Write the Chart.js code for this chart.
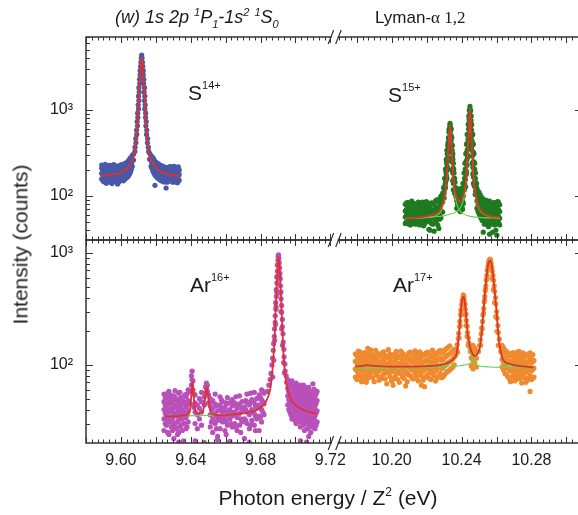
<!DOCTYPE html>
<html><head><meta charset="utf-8">
<script src="https://cdn.jsdelivr.net/npm/chart.js@4.4.1/dist/chart.umd.min.js"></script>
<style>
html,body{margin:0;padding:0;background:#fff;overflow:hidden}
#clip{position:relative;width:578px;height:515px;overflow:hidden;background:#fff}
#wrap{position:relative;width:600px;height:515px}
#c{position:absolute;left:0;top:0;width:600px;height:515px}
.t{position:absolute;white-space:nowrap;color:#1a1a1a;font-family:"Liberation Sans",Arial,sans-serif;line-height:1}
.sp{position:relative;font-size:11px}
</style></head><body>
<div id="clip"><div id="wrap">
<canvas id="c" width="600" height="515"></canvas>
<div class="t" style="left:115px;top:8px;font-size:18px;font-style:italic">(w) 1s 2p <span class="sp" style="top:-7px">1</span>P<span class="sp" style="top:5px">1</span>-1s<span class="sp" style="top:-7px">2</span> <span class="sp" style="top:-7px">1</span>S<span class="sp" style="top:5px">0</span></div>
<div class="t" style="left:375px;top:9px;font-size:17px">Lyman-<span style="font-family:'Liberation Serif',serif">α 1,2</span></div>
<div class="t" style="left:188px;top:82px;font-size:21px">S<span class="sp" style="top:-11px">14+</span></div>
<div class="t" style="left:388px;top:84px;font-size:21px">S<span class="sp" style="top:-11px">15+</span></div>
<div class="t" style="left:190px;top:274px;font-size:21px">Ar<span class="sp" style="top:-11px">16+</span></div>
<div class="t" style="left:393px;top:274px;font-size:21px">Ar<span class="sp" style="top:-11px">17+</span></div>
<div class="t" style="left:178px;top:487px;width:300px;text-align:center;font-size:21px">Photon energy / Z<span class="sp" style="top:-9px;font-size:12px">2</span> (eV)</div>
<div class="t" style="left:-80px;top:234px;width:200px;height:21px;text-align:center;font-size:21px;transform:rotate(-90deg)">Intensity (counts)</div>
</div></div>
<script>
// ---------- tick labels ----------
const xLeftTicks = [9.60, 9.64, 9.68, 9.72];
const xRightTicks = [10.20, 10.24, 10.28];
const yLabelTicks = [100, 1000];

// ---------- S14+ (w line); band rows: [x, counts...] ----------
const s14Band = [
[9.5890,158,184,211,229],[9.5903,147,172,199,222],[9.5916,141,165,190,215],[9.5929,152,178,205,226],
[9.5942,145,168,194,218],[9.5955,160,186,209,230],[9.5968,149,175,201,224],[9.5981,138,156,181,213],
[9.5994,151,174,198,227],[9.6007,160,186,210,232],[9.6020,155,181,207,236],[9.6032,163,190,219,243],
[9.6044,172,200,230,256],[9.6055,190,220,252,278],[9.6065,222,258,298],[9.6072,262,305],
[9.5897,150,176,203,224],[9.5910,162,188,212,233],[9.5923,146,170,196,220],[9.5936,157,183,208,228],
[9.5949,140,164,190,214],[9.5962,153,179,206,231],[9.5975,161,185,210,222],[9.5988,146,170,194,219],
[9.6001,158,182,207,230],[9.6013,150,177,203,226],[9.6026,160,187,214,240],[9.6038,168,196,226,250],
[9.6050,182,212,243,268],[9.6060,205,240,276],
[9.6165,268,312],[9.6173,222,258,296],[9.6183,196,226,258,280],[9.6195,133,175,204,232,252],
[9.6208,164,190,218,240],[9.6221,157,183,209,231],[9.6234,150,176,202,224],[9.6247,146,170,196,218],
[9.6259,124,158,183,208],[9.6272,148,172,197,214],[9.6285,154,178,203,220],[9.6298,145,167,190,212],
[9.6311,151,175,199,217],[9.6324,143,169,193,214],[9.6334,153,177,200],
[9.6178,210,240,275],[9.6189,185,214,245,266],[9.6201,170,197,225,246],[9.6214,160,186,213,236],
[9.6227,153,179,205,227],[9.6240,148,173,199,221],[9.6253,152,176,201,216],[9.6265,145,168,193,211],
[9.6278,151,175,200,218],[9.6291,149,171,196,215],[9.6304,155,179,204,221],[9.6317,146,170,195,213],
[9.6329,150,174,197,218]
];
const s14Peak = [
[9.6080,330],[9.6081,370],[9.6086,415],[9.6085,465],[9.6091,520],[9.6090,585],[9.6095,655],[9.6093,735],
[9.6097,820],[9.6096,920],[9.6101,1030],[9.6099,1150],[9.6103,1290],[9.6101,1450],[9.6105,1620],[9.6103,1820],
[9.6108,2040],[9.6107,2280],[9.6110,2560],[9.6110,2870],[9.6113,3210],[9.6115,3600],[9.6117,4030],[9.6119,4360],
[9.6121,4030],[9.6123,3600],[9.6125,3210],[9.6128,2870],[9.6128,2560],[9.6131,2280],[9.6130,2040],[9.6135,1820],
[9.6133,1620],[9.6137,1450],[9.6135,1290],[9.6139,1150],[9.6137,1030],[9.6142,920],[9.6141,820],[9.6145,735],
[9.6143,655],[9.6148,585],[9.6147,520],[9.6153,465],[9.6152,415],[9.6157,370],[9.6159,330]
];
const s14Fit = [
[9.5890,172],[9.5959,178],[9.5994,184],[9.6014,195],[9.6039,215],[9.6059,245],[9.6073,290],[9.6081,350],
[9.6088,480],[9.6094,700],[9.6099,1000],[9.6103,1500],[9.61075,2230],[9.6113,3300],[9.6119,4100],
[9.6125,3300],[9.61305,2230],[9.6135,1500],[9.6139,1000],[9.6144,700],[9.6150,480],[9.6157,350],
[9.6165,290],[9.6179,245],[9.6199,215],[9.6224,195],[9.6244,184],[9.6279,178],[9.6335,171]
];

// ---------- S15+ Lyman-alpha ----------
const s15Band = [
[10.2078,48,57,67,80],[10.2093,52,61,73,84],[10.2108,46,55,64,77],[10.2123,50,59,70,82],
[10.2138,47,54,62,75],[10.2153,52,60,71,85],[10.2168,49,58,66,79],[10.2183,45,56,65,81],
[10.2198,51,62,72,86],[10.2213,41,53,63,78],[10.2228,48,58,69,83],[10.2243,39,55,66,80],
[10.2258,52,62,74,90],[10.2270,42,57,70,86],[10.2282,56,68,82,100],[10.2292,65,85,108],
[10.2085,50,60,70,83],[10.2100,47,56,66,78],[10.2115,53,62,74,87],[10.2130,48,57,67,80],
[10.2145,51,59,69,82],[10.2160,46,55,64,77],[10.2175,50,61,72,85],[10.2190,48,57,68,80],
[10.2205,52,60,70,84],[10.2220,40,50,61,75],[10.2235,47,56,67,81],[10.2250,50,60,71,87],
[10.2264,46,59,72,88],[10.2276,54,64,78,94],
[10.2372,72,88,106],[10.2382,78,95,116],[10.2392,66,84,101,122],[10.2402,74,92,112],[10.2410,82,100,124],
[10.2377,80,97,112],[10.2387,70,90,108],[10.2397,76,95,115],[10.2406,70,86,106],
[10.2488,72,88,104,122],[10.2500,62,77,92,110],[10.2512,55,68,82,98],[10.2524,38,52,64,78,93],
[10.2536,49,60,72,88],[10.2548,46,57,68,83],[10.2560,36,50,61,74,87],[10.2572,47,56,66,80],
[10.2584,51,60,71,84],[10.2596,40,48,58,69,82],[10.2608,50,59,70,86],[10.2618,46,55,66,79],
[10.2494,66,80,96,114],[10.2506,58,72,86,104],[10.2518,52,64,77,92],[10.2530,47,58,70,85],
[10.2542,50,61,73,89],[10.2554,44,54,65,79],[10.2566,49,59,70,84],[10.2578,38,52,62,75],
[10.2590,46,56,67,81],[10.2602,35,50,61,73,85],[10.2613,48,57,68,82]
];
const s15Peak = [
[10.2290,92],[10.2296,104],[10.2302,118],[10.2305,132],[10.2311,150],[10.2313,172],[10.2312,195],[10.2318,220],
[10.2316,250],[10.2321,282],[10.2320,320],[10.2324,365],[10.2323,420],[10.2327,480],[10.2328,550],[10.2331,610],
[10.2333,665],[10.2334,700],[10.2300,95],[10.2308,125],[10.2316,160],[10.2320,205],[10.2324,260],[10.2326,330],[10.2329,400],
[10.2300,108],[10.2307,140],[10.2311,185],[10.2315,240],[10.2318,310],[10.2321,390],[10.2325,470],[10.2328,590],
[10.2297,125],[10.2303,160],[10.2308,205],[10.2312,265],[10.2316,340],
[10.2336,640],[10.2337,570],[10.2340,505],[10.2340,440],[10.2344,378],[10.2343,325],[10.2348,282],[10.2346,248],
[10.2351,212],[10.2350,185],[10.2356,160],[10.2354,140],[10.2362,122],[10.2360,108],[10.2368,98],
[10.2336,470],[10.2339,360],[10.2342,270],[10.2345,200],[10.2349,150],[10.2353,118],
[10.2341,600],[10.2344,480],[10.2347,390],[10.2350,310],[10.2353,240],[10.2357,185],[10.2362,145],[10.2368,115],
[10.2346,340],[10.2350,265],[10.2355,205],[10.2360,160],[10.2366,125],
[10.2416,118],[10.2419,138],[10.2422,156],[10.2427,178],[10.2425,200],[10.2431,228],[10.2430,262],[10.2435,300],
[10.2433,345],[10.2438,400],[10.2437,460],[10.2441,530],[10.2440,600],[10.2444,690],[10.2443,780],[10.2446,880],
[10.2446,980],[10.2448,1100],[10.2423,128],[10.2429,190],[10.2434,280],[10.2439,370],[10.2443,500],[10.2445,720],
[10.2411,125],[10.2417,160],[10.2421,205],[10.2425,250],[10.2428,320],[10.2432,410],[10.2435,520],[10.2438,680],
[10.2441,850],[10.2444,1000],
[10.2408,140],[10.2414,185],[10.2419,240],[10.2424,310],[10.2428,400],[10.2432,520],
[10.2450,960],[10.2451,850],[10.2454,760],[10.2453,660],[10.2457,585],[10.2456,500],[10.2459,440],[10.2459,380],
[10.2463,330],[10.2461,290],[10.2466,250],[10.2465,215],[10.2470,190],[10.2469,165],[10.2475,148],[10.2473,130],
[10.2480,115],[10.2478,104],[10.2450,640],[10.2453,470],[10.2456,350],[10.2460,240],[10.2464,180],[10.2468,140],
[10.2452,1000],[10.2455,850],[10.2458,680],[10.2461,520],[10.2464,410],[10.2468,320],[10.2471,250],[10.2475,205],
[10.2479,160],[10.2485,125],
[10.2464,520],[10.2467,400],[10.2471,310],[10.2475,240],[10.2480,185],[10.2486,140]
];
const s15Fit = [
[10.2078,55],[10.2150,56],[10.2200,58],[10.2240,61],[10.2270,66],[10.2290,78],[10.2305,106],[10.2315,164],
[10.2322,276],[10.2328,456],[10.2334,670],[10.2340,458],[10.2346,280],[10.2353,160],[10.2362,112],[10.2375,93],
[10.2387,86],[10.2400,91],[10.2413,106],[10.2423,140],[10.2431,222],[10.2438,420],[10.2443,700],[10.2448,1046],
[10.2453,700],[10.2458,420],[10.2465,220],[10.2473,136],[10.2485,92],[10.2500,73],[10.2515,66],[10.2545,60],
[10.2580,57.5],[10.2620,56.5]
];
const s15CompA = [
[10.2078,54.5],[10.2200,56.5],[10.2260,60],[10.2290,72],[10.2305,100],[10.2315,158],[10.2322,270],[10.2328,450],
[10.2334,660],[10.2340,450],[10.2346,270],[10.2353,150],[10.2362,100],[10.2375,78],[10.2387,69],[10.2410,62],
[10.2450,58],[10.2500,56.5],[10.2620,55]
];
const s15CompB = [
[10.2078,55],[10.2200,56.5],[10.2300,59],[10.2350,63],[10.2387,70],[10.2405,82],[10.2418,108],[10.2425,135],
[10.2431,210],[10.2438,410],[10.2443,690],[10.2448,1040],[10.2453,690],[10.2458,410],[10.2465,210],[10.2473,130],
[10.2485,86],[10.2500,70],[10.2515,64],[10.2545,59],[10.2580,57],[10.2620,56]
];

// ---------- Ar16+ (w line) ----------
const ar16Band = [
[9.6247,26,33,40,47,55],[9.6261,29,36,43,52],[9.6275,24,31,38,45,58],[9.6289,28,34,41,50],
[9.6303,22,30,37,44,53],[9.6317,27,35,42,49],[9.6331,20.5,25,32,39,46,56],[9.6345,29,36,44,51],
[9.6359,21,30,38,47],[9.6373,27,34,42,52],[9.6385,31,39,48,60],
[9.6254,30,37,44,51],[9.6268,25,33,40,48,56],[9.6282,31,38,46,54],[9.6296,26,33,40,48],
[9.6310,29,36,43,51,59],[9.6324,24,31,38,45],[9.6338,28,35,42,50,57],[9.6352,26,33,40,48],
[9.6366,30,37,45,54],[9.6379,28,36,44,55],
[9.6398,45,58],[9.6404,66,80],[9.6408,74,88],[9.6413,60,72],[9.6418,42,55],
[9.6425,21,30,38,46,54],[9.6438,27,36,44],[9.6450,33,41,50],[9.6462,29,38,47,57],
[9.6478,20.3,44,52],[9.6485,56,64],[9.6490,62,69],[9.6495,58,66],[9.6502,46,54],
[9.6512,28,36,43,50],[9.6526,25,33,41,48],[9.6540,30,37,45,55],[9.6554,21.5,23,32,39],[9.6568,27,35,44,52],
[9.6582,31,38,47],[9.6596,26,34,42],[9.6610,29,36,45,51],[9.6624,20.8,33,40],[9.6638,28,35,43,49],
[9.6652,30,38,46],[9.6666,26,34,41],[9.6680,29,37,45,53],[9.6694,31,39,47],[9.6708,22,33,42],
[9.6722,30,38,46,55],[9.6736,20.4,27,36,44],[9.6750,32,40,49],[9.6764,29,37,46,57],[9.6778,33,41,50],
[9.6792,26,35,44,54],[9.6806,31,40,49,60],[9.6820,36,45,56],
[9.6519,31,40,47],[9.6547,27,35,43],[9.6575,33,41,49],[9.6603,24,31,39,46],[9.6631,30,38,47],
[9.6659,28,36,44,52],[9.6687,25,33,42],[9.6715,32,40,48],[9.6743,29,38,47,56],[9.6771,26,35,43],
[9.6799,34,42,51],[9.6813,38,47,58],
[9.6956,44,53,62,74],[9.6968,38,47,56,66],[9.6980,33,42,51,62,72],[9.6992,35,44,53,64],
[9.7004,30,39,48,58,69],[9.7016,34,42,50,61],[9.7028,21,28,37,46,56,66],[9.7040,32,40,49,59],
[9.7052,26,35,44,53,64],[9.7064,20.5,31,39,47,57],[9.7076,23,29,36,45,54,63],[9.7088,25,34,42,51],
[9.7100,30,38,46,56,68],[9.7112,27,35,43,52],[9.7124,31,39,48,58],
[9.6962,40,49,58,69],[9.6974,36,45,54,64],[9.6986,38,47,56,67],[9.6998,32,41,50,60],
[9.7010,36,44,53,64],[9.7022,31,39,48,57],[9.7034,34,42,51,62],[9.7046,29,37,46,55,66],
[9.7058,33,41,50,60],[9.7070,27,35,43,52],[9.7082,32,40,48,58],[9.7094,28,36,45,54],
[9.7106,33,41,50,61],[9.7118,29,37,45,55]
];
const ar16Peak = [
[9.6840,58],[9.6848,66],[9.6855,74],[9.6860,84],[9.6865,100],[9.6869,115],[9.6873,135],[9.6875,155],
[9.6879,180],[9.6880,210],[9.6884,240],[9.6884,275],[9.6888,315],[9.6887,360],[9.6891,410],[9.6890,470],
[9.6894,540],[9.6893,610],[9.6897,690],[9.6896,780],[9.6900,860],[9.6901,930],[9.6903,960],
[9.6870,78],[9.6876,110],[9.6881,165],[9.6886,230],[9.6889,330],[9.6893,450],[9.6896,620],
[9.6905,900],[9.6907,820],[9.6909,740],[9.6911,660],[9.6913,590],[9.6914,510],[9.6917,450],[9.6918,390],
[9.6921,340],[9.6921,295],[9.6925,255],[9.6925,220],[9.6929,190],[9.6930,160],[9.6934,138],[9.6935,118],
[9.6940,102],[9.6941,88],[9.6947,80],[9.6950,70],
[9.6908,620],[9.6913,440],[9.6917,300],[9.6921,210],[9.6926,150],[9.6932,105],[9.6937,85]
];
const ar16Fit = [
[9.6253,35],[9.6320,35],[9.6370,35.5],[9.6388,36.5],[9.6396,40],[9.6402,50],[9.6406,62],[9.6410,71],
[9.6414,62],[9.6418,50],[9.6424,41],[9.6432,37.5],[9.6450,37],[9.6466,38],[9.6476,42],[9.6483,51],
[9.6488,59],[9.6492,63],[9.6496,59],[9.6501,51],[9.6508,42],[9.6518,37.5],[9.6535,35.8],[9.6580,35.5],
[9.6630,36],[9.6683,36.6],[9.6740,38],[9.6779,39.6],[9.6810,43],[9.6826,45.5],[9.6843,52],[9.6855,60],
[9.6863,75],[9.6870,96],[9.6876,130],[9.6882,192],[9.6885,270],[9.6889,381],[9.6893,520],[9.6897,705],
[9.6900,840],[9.6903,915],[9.6906,840],[9.6910,705],[9.6914,520],[9.6918,381],[9.6922,270],[9.6926,192],
[9.6931,130],[9.6937,96],[9.6944,75],[9.6951,64],[9.6968,52],[9.6989,45.5],[9.7046,39.6],[9.7123,36.5]
];
const ar16Base = [[9.6253,35],[9.6450,35.3],[9.6616,35.8]];

// ---------- Ar17+ Lyman-alpha ----------
const ar17Band = [
[10.1792,78,92,108,126],[10.1810,84,99,115,133],[10.1828,71,73,88,104,121],[10.1846,81,96,112,129],
[10.1864,76,90,107,124,141],[10.1882,86,101,118,136],[10.1900,71,87,103,119],[10.1918,80,94,110,127],
[10.1936,75,91,106,123],[10.1954,83,98,113,131],[10.1972,68,85,101,117],[10.1990,79,93,109,125],
[10.2008,66,74,89,105,122],[10.2026,82,97,114,132],[10.2044,70,86,102,118],[10.2062,78,92,108,127],
[10.2080,65,84,100,116],[10.2098,81,95,111,128],[10.2116,76,90,106,124],[10.2134,84,99,116,134],
[10.2152,72,88,104,120],[10.2170,66,80,94,110,126],[10.2188,64,77,91,107,123],[10.2206,83,97,113,130],
[10.2224,74,89,105,121],[10.2242,80,95,111,129],[10.2260,76,92,109,126],[10.2278,84,99,116,135],
[10.2296,79,95,112,130],[10.2314,86,102,120,140],[10.2332,90,107,126,148],[10.2350,96,113,134],
[10.1801,74,89,104,120],[10.1819,80,95,111,130],[10.1837,76,91,107,125],[10.1855,70,85,100,117],
[10.1873,82,97,113,131],[10.1891,77,92,108,124],[10.1909,84,100,116,135],[10.1927,73,88,103,120],
[10.1945,79,94,110,128],[10.1963,75,90,105,122],[10.1981,85,100,117,137],[10.1999,72,87,102,119],
[10.2017,78,93,109,126],[10.2035,74,89,104,121],[10.2053,83,98,115,133],[10.2071,76,91,107,124],
[10.2089,71,86,101,118],[10.2107,80,95,112,130],[10.2125,75,90,106,123],[10.2143,78,93,109,127],
[10.2161,82,97,114,131],[10.2179,73,88,104,121],[10.2197,79,94,110,128],[10.2215,76,91,107,125],
[10.2233,84,100,117,136],[10.2251,72,88,104,122],[10.2269,80,96,113,132],[10.2287,77,93,110,128],
[10.2305,83,99,117,137],[10.2323,88,105,123,144],[10.2341,93,110,130],[10.2358,100,118,138],
[10.2455,98,116,136],[10.2465,92,110,128,150],[10.2475,104,121,142],[10.2485,96,115,134],
[10.2632,96,112,130,150],[10.2648,84,100,117,136],[10.2664,79,94,110,128],[10.2680,71,88,104,121],
[10.2696,80,95,111,129],[10.2712,74,90,106,123],[10.2728,82,97,114,132],[10.2744,69,86,102,118],
[10.2760,77,92,108,125],[10.2776,73,89,105,122],[10.2792,58,81,96,112,128],[10.2808,76,91,107,124],
[10.2640,90,106,124,142],[10.2656,82,97,114,132],[10.2672,76,91,107,125],[10.2688,78,93,109,127],
[10.2704,72,87,103,119],[10.2720,80,95,112,130],[10.2736,75,90,106,123],[10.2752,79,94,110,128],
[10.2768,70,86,102,119],[10.2784,77,92,108,126],[10.2800,74,89,105,121],[10.2814,78,94,110]
];
const ar17Peak = [
[10.2366,122],[10.2372,138],[10.2375,152],[10.2381,172],[10.2383,192],[10.2389,220],[10.2390,245],[10.2395,280],
[10.2396,310],[10.2401,345],[10.2403,375],[10.2408,400],[10.2410,422],
[10.2377,130],[10.2386,175],[10.2392,225],[10.2398,290],[10.2404,350],
[10.2413,410],[10.2415,380],[10.2420,350],[10.2421,315],[10.2426,285],[10.2427,250],[10.2432,222],[10.2434,195],
[10.2439,175],[10.2441,158],[10.2447,145],[10.2450,132],
[10.2416,340],[10.2421,280],[10.2426,225],[10.2432,180],[10.2438,150],
[10.2497,132],[10.2503,150],[10.2507,168],[10.2512,190],[10.2515,215],[10.2520,245],[10.2522,280],[10.2527,320],
[10.2529,365],[10.2533,410],[10.2535,460],[10.2539,510],[10.2541,570],[10.2545,630],[10.2547,700],[10.2551,760],
[10.2554,820],[10.2558,860],[10.2562,880],
[10.2509,150],[10.2518,210],[10.2526,290],[10.2532,380],[10.2538,480],[10.2545,590],[10.2551,700],
[10.2566,865],[10.2569,810],[10.2573,750],[10.2576,690],[10.2580,630],[10.2583,570],[10.2587,510],[10.2589,455],
[10.2594,400],[10.2596,350],[10.2601,300],[10.2603,262],[10.2608,225],[10.2610,195],[10.2616,170],[10.2618,148],
[10.2624,132],
[10.2568,720],[10.2575,590],[10.2582,470],[10.2589,360],[10.2596,270],[10.2603,200],[10.2610,150]
];
const ar17Fit = [
[10.1790,97],[10.1830,98],[10.1860,99.5],[10.1900,98],[10.1950,97],[10.2000,96.5],[10.2100,96.5],[10.2200,97.5],
[10.2280,100],[10.2330,106],[10.2355,114],[10.2372,127],[10.2380,160],[10.2387,205],[10.2393,265],[10.2398,331],
[10.2404,385],[10.2410,407],[10.2416,385],[10.2421,331],[10.2427,265],[10.2433,205],[10.2440,168],[10.2448,145],
[10.2462,126],[10.2477,120],[10.2491,127],[10.2505,145],[10.2515,195],[10.2524,290],[10.2532,410],[10.2539,536],
[10.2546,680],[10.2553,809],[10.2562,853],[10.2570,809],[10.2577,680],[10.2585,536],[10.2593,400],[10.2601,290],
[10.2608,205],[10.2616,156],[10.2627,125],[10.2638,111],[10.2660,104],[10.2696,100],[10.2750,97],[10.2812,95]
];
const ar17CompA = [
[10.1790,94],[10.2000,94.5],[10.2200,95.5],[10.2300,99],[10.2350,108],[10.2372,124],[10.2380,157],[10.2387,202],
[10.2393,262],[10.2398,328],[10.2404,382],[10.2410,404],[10.2416,382],[10.2421,328],[10.2427,262],[10.2433,200],
[10.2440,160],[10.2448,133],[10.2458,117],[10.2467,107],[10.2480,101],[10.2500,98],[10.2560,96],[10.2650,95],[10.2812,94]
];
const ar17CompB = [
[10.1790,94],[10.2100,94.5],[10.2300,96],[10.2400,99],[10.2440,102],[10.2467,107],[10.2480,114],[10.2491,123],
[10.2505,142],[10.2515,192],[10.2524,288],[10.2532,408],[10.2539,534],[10.2546,678],[10.2553,807],[10.2562,851],
[10.2570,807],[10.2577,678],[10.2585,534],[10.2593,398],[10.2601,288],[10.2608,202],[10.2616,152],[10.2627,120],
[10.2638,106],[10.2660,99],[10.2696,96],[10.2812,94]
];

// ---------- build ----------
const FONT = '"Liberation Sans", Arial, sans-serif';
const AX = '#333333';
const cols = c => c.flatMap(r => r.slice(1).map(v => [r[0], v]));
const pts = (data, color, xid, yid) => ({
  data, xAxisID: xid, yAxisID: yid, backgroundColor: color, borderColor: color,
  pointRadius: 2.6, pointBorderWidth: 0, pointHoverRadius: 0, order: 3
});
const line = (data, color, w, xid, yid, order) => ({
  data, xAxisID: xid, yAxisID: yid, showLine: true, borderColor: color, backgroundColor: color,
  borderWidth: w, pointRadius: 0, pointHoverRadius: 0, fill: false, cubicInterpolationMode: 'monotone',
  order
});
const RED = '#e2312b', LG = '#72cc55';

const frame = {
  id: 'frame',
  afterDatasetsDraw(chart) {
    const c = chart.ctx, s = chart.scales;
    const xL = s.xL, xR = s.xR, yT = s.yT, yB = s.yB;
    const L = chart.chartArea.left, R = chart.chartArea.right;
    const T = yT.top, M = yT.bottom, B = yB.bottom;
    c.save();
    c.strokeStyle = AX;
    c.lineWidth = 1;
    c.beginPath();
    [xL, xR].forEach(sc => {
      const step = 0.02 / 6;
      const k0 = Math.ceil(sc.min / step - 1e-6), k1 = Math.floor(sc.max / step + 1e-6);
      for (let k = k0; k <= k1; k++) {
        const px = Math.round(sc.getPixelForValue(k * step)) + 0.5;
        const len = (k % 6 === 0) ? 6 : 3.5;
        [[T, 1], [M, -1], [M, 1], [B, -1]].forEach(([y, d]) => { c.moveTo(px, y); c.lineTo(px, y + d * len); });
      }
    });
    [yT, yB].forEach(sc => {
      const e0 = Math.floor(Math.log10(sc.min)), e1 = Math.ceil(Math.log10(sc.max));
      for (let e = e0; e <= e1; e++) for (let m = 1; m <= 9; m++) {
        const v = m * Math.pow(10, e);
        if (v < sc.min || v > sc.max) continue;
        const py = Math.round(sc.getPixelForValue(v)) + 0.5;
        const len = m === 1 ? 7 : 4;
        c.moveTo(L, py); c.lineTo(L + len, py);
        c.moveTo(R, py); c.lineTo(R - len, py);
      }
    });
    c.stroke();
    c.lineWidth = 1.5;
    c.strokeRect(L, T, R - L, M - T);
    c.strokeRect(L, M, R - L, B - M);
    const x0 = xL.right;
    [T, M, B].forEach(y => {
      c.fillStyle = '#fff';
      c.fillRect(x0 - 3, y - 2, 6, 4);
      c.beginPath();
      c.lineWidth = 1.2;
      c.moveTo(x0 - 6.5, y + 7); c.lineTo(x0 - 1, y - 7);
      c.moveTo(x0 + 1, y + 7); c.lineTo(x0 + 6.5, y - 7);
      c.stroke();
    });
    c.restore();
  }
};

const tickFont = {family: FONT, size: 16};
const xScale = (min, max, weight, sw, labels) => ({
  type: 'linear', position: 'bottom', stack: 'x', stackWeight: sw, weight, min, max,
  grid: {display: false, drawTicks: false}, border: {display: false},
  afterFit: sc => { sc.height = 72; sc.paddingLeft = 0; sc.paddingRight = 0; },
  afterBuildTicks: sc => { sc.ticks = labels.map(v => ({value: v})); },
  ticks: {autoSkip: false, maxRotation: 0, padding: 8, color: '#1a1a1a', font: tickFont,
          callback: v => Number(v).toFixed(2)}
});
const sup = {100: '10\u00b2', 1000: '10\u00b3'};
const yScale = (min, max, weight) => ({
  type: 'logarithmic', position: 'left', stack: 'y', stackWeight: 1, weight, min, max,
  grid: {display: false, drawTicks: false}, border: {display: false},
  afterFit: sc => { sc.width = 86; sc.paddingTop = 0; sc.paddingBottom = 0; },
  afterBuildTicks: sc => { sc.ticks = yLabelTicks.filter(v => v >= sc.min && v <= sc.max).map(v => ({value: v})); },
  ticks: {autoSkip: false, padding: 13, color: '#1a1a1a', font: tickFont, callback: v => sup[v] || ''}
});

new Chart(document.getElementById('c'), {
  type: 'scatter',
  data: {datasets: [
    line(s14Fit, RED, 1.8, 'xL', 'yT', 0),
    line(s15Fit, RED, 1.8, 'xR', 'yT', 0),
    line(ar16Fit, RED, 1.8, 'xL', 'yB', 0),
    line(ar17Fit, RED, 1.8, 'xR', 'yB', 0),
    line(s15CompA, LG, 1.1, 'xR', 'yT', 1),
    line(s15CompB, LG, 1.1, 'xR', 'yT', 1),
    line(ar16Base, LG, 1.1, 'xL', 'yB', 1),
    line(ar17CompA, LG, 1.1, 'xR', 'yB', 1),
    line(ar17CompB, LG, 1.1, 'xR', 'yB', 1),
    pts(cols(s14Band).concat(s14Peak), '#4a58a8', 'xL', 'yT'),
    pts(cols(s15Band).concat(s15Peak), '#1f7a1f', 'xR', 'yT'),
    pts(cols(ar16Band).concat(ar16Peak), '#b950b9', 'xL', 'yB'),
    pts(cols(ar17Band).concat(ar17Peak), '#f08a2e', 'xR', 'yB')
  ]},
  options: {
    responsive: false, maintainAspectRatio: false, animation: false, devicePixelRatio: 1,
    layout: {padding: {top: 37, right: 18, left: 0, bottom: 0}},
    plugins: {legend: {display: false}, tooltip: {enabled: false}},
    events: [],
    scales: {
      xL: xScale(9.58, 9.7225, 1, 248.7, xLeftTicks),
      xR: xScale(10.1674, 10.3089, 2, 247.3, xRightTicks),
      yT: yScale(30.8, 7063, 2),
      yB: yScale(20.1, 1306, 1)
    }
  },
  plugins: [frame]
});
</script>
</body></html>
